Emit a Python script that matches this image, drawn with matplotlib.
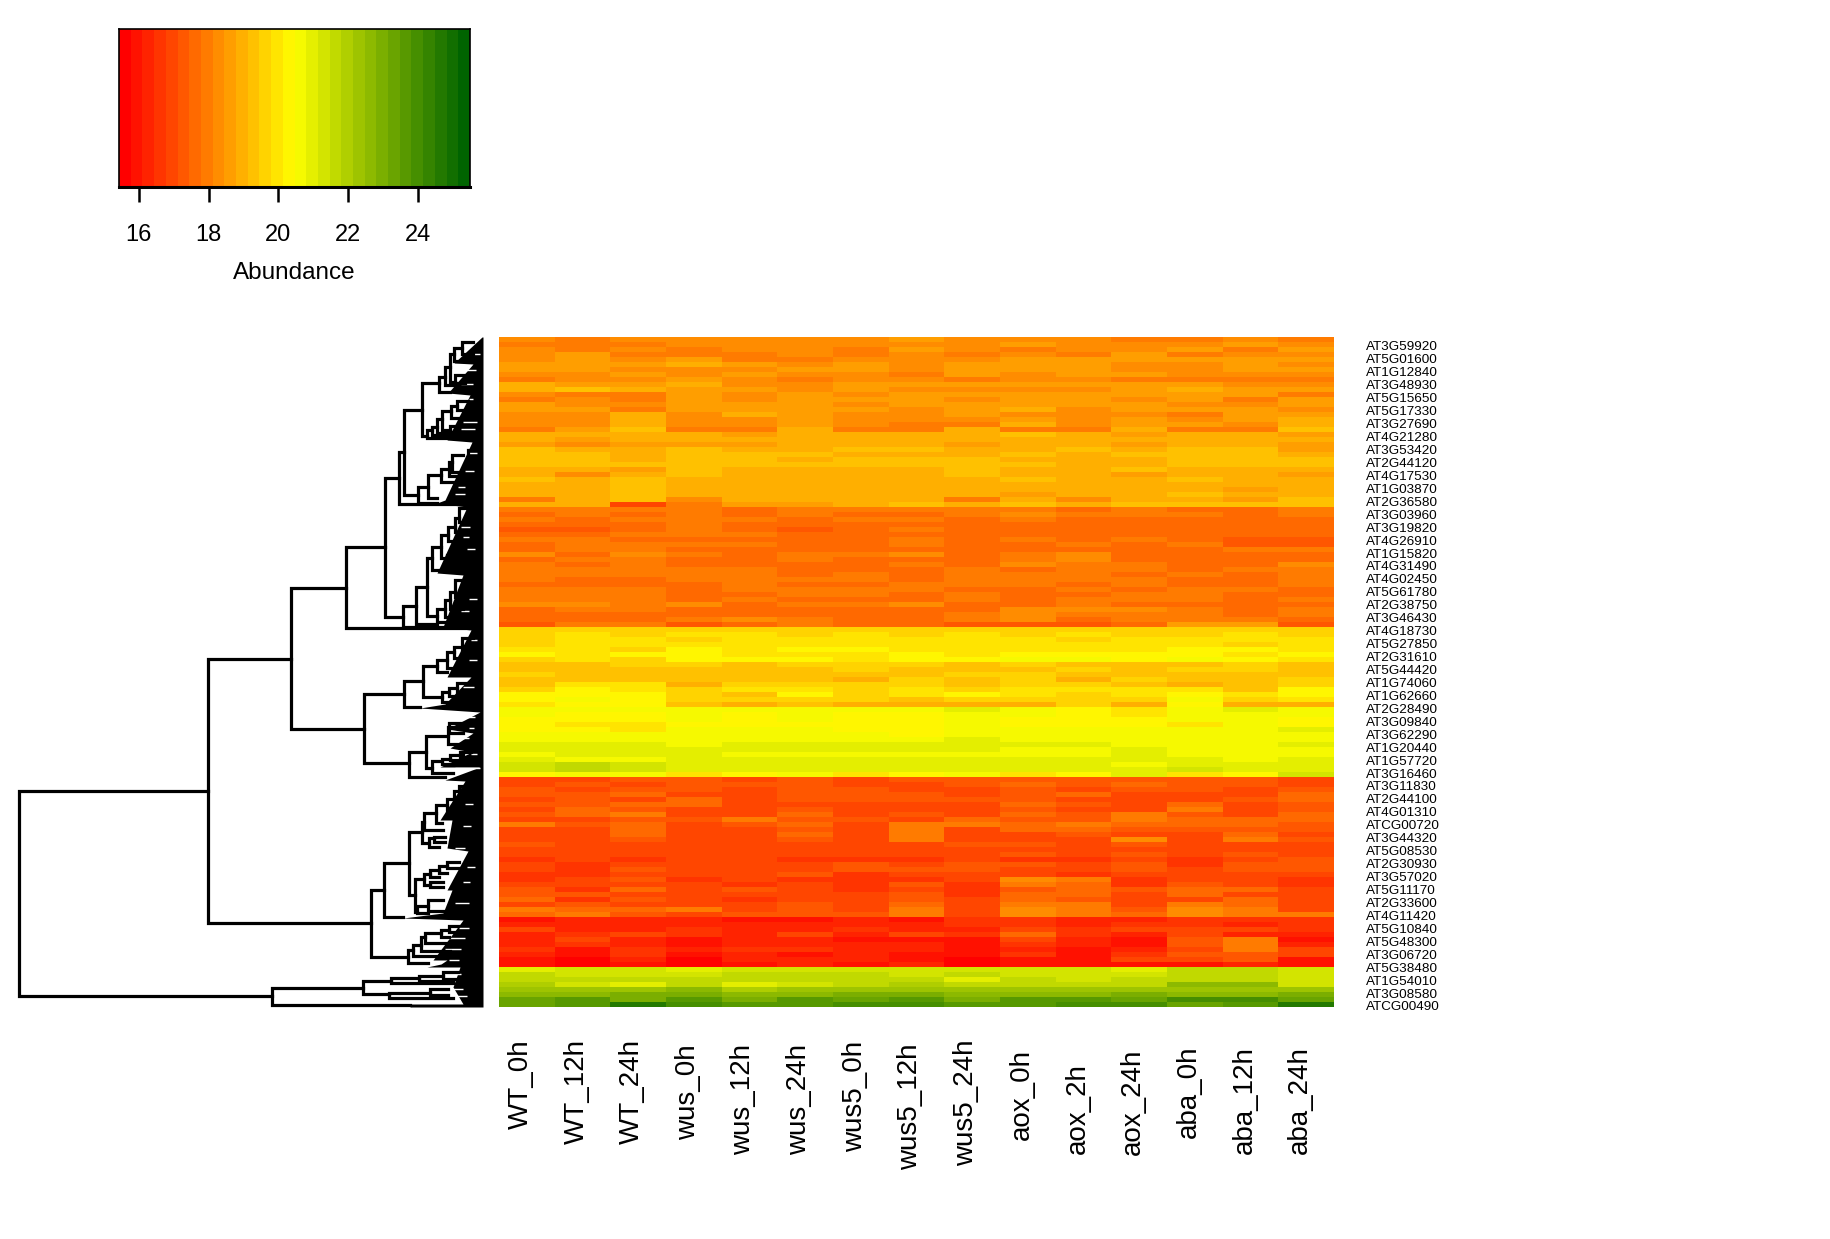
"""Heatmap of protein abundance with row dendrogram and colour key."""
import numpy as np
import matplotlib
matplotlib.use('Agg')
import matplotlib.pyplot as plt
from matplotlib.colors import LinearSegmentedColormap

W, H = 1831, 1239
plt.rcParams['font.family'] = ['Liberation Sans', 'DejaVu Sans']

SAMPLES = ['WT_0h', 'WT_12h', 'WT_24h', 'wus_0h', 'wus_12h', 'wus_24h', 'wus5_0h',
           'wus5_12h', 'wus5_24h', 'aox_0h', 'aox_2h', 'aox_24h', 'aba_0h', 'aba_12h', 'aba_24h']
SAMPLE_LABEL_TOP = [1039, 1039, 1039, 1044, 1044, 1044, 1041, 1044, 1039,
                    1049, 1063, 1049, 1046, 1046, 1046]

GENES = ['AT3G59920', 'AT5G01600', 'AT1G12840', 'AT3G48930', 'AT5G15650', 'AT5G17330',
         'AT3G27690', 'AT4G21280', 'AT3G53420', 'AT2G44120', 'AT4G17530', 'AT1G03870',
         'AT2G36580', 'AT3G03960', 'AT3G19820', 'AT4G26910', 'AT1G15820', 'AT4G31490',
         'AT4G02450', 'AT5G61780', 'AT2G38750', 'AT3G46430', 'AT4G18730', 'AT5G27850',
         'AT2G31610', 'AT5G44420', 'AT1G74060', 'AT1G62660', 'AT2G28490', 'AT3G09840',
         'AT3G62290', 'AT1G20440', 'AT1G57720', 'AT3G16460', 'AT3G11830', 'AT2G44100',
         'AT4G01310', 'ATCG00720', 'AT3G44320', 'AT5G08530', 'AT2G30930', 'AT3G57020',
         'AT5G11170', 'AT2G33600', 'AT4G11420', 'AT5G10840', 'AT5G48300', 'AT3G06720',
         'AT5G38480', 'AT1G54010', 'AT3G08580', 'ATCG00490']

# abundance per row, one column per sample, top to bottom of the picture
upper_orange = [
    [18.2,18.1,18.2,18.3,18.2,18.4,18.2,18.5,18.2,18.2,18.3,18.1,18.1,18.3,18.1],
    [18.0,18.1,18.0,18.2,18.4,18.3,18.4,18.4,18.4,18.5,18.4,18.3,18.4,18.5,18.4],
    [18.4,18.0,18.3,18.0,18.3,18.3,18.0,18.5,18.3,18.1,18.2,18.2,18.5,18.0,18.5],
    [18.3,18.5,18.0,18.0,18.0,18.2,18.0,18.4,18.0,18.4,18.1,18.5,18.0,18.2,18.4],
    [18.4,18.5,18.3,18.7,18.1,18.0,18.3,18.4,18.4,18.5,18.6,18.5,18.5,18.5,18.7],
    [18.7,18.6,18.7,18.8,18.5,18.3,18.6,18.3,18.6,18.5,18.5,18.4,18.4,18.5,18.3],
    [18.5,18.7,18.4,18.4,18.4,18.5,18.5,18.2,18.5,18.6,18.5,18.3,18.4,18.5,18.5],
    [18.3,18.4,18.6,18.2,18.5,18.3,18.4,18.1,18.6,18.4,18.5,18.5,18.4,18.4,18.4],
    [18.1,18.3,18.2,18.6,18.4,18.1,18.3,18.2,18.1,18.3,18.3,17.9,18.1,18.1,17.9],
    [18.9,18.5,18.7,18.9,18.3,18.4,18.6,18.5,18.5,18.7,18.7,18.5,18.5,18.4,18.4],
    [19.0,19.2,18.8,18.5,18.5,18.4,18.5,18.4,18.4,18.4,18.4,18.6,18.9,18.5,18.6],
    [18.2,18.0,18.0,18.5,18.4,18.6,18.3,18.5,18.6,18.5,18.5,18.7,18.7,18.5,18.0],
    [18.0,18.2,18.0,18.5,18.3,18.5,18.5,18.7,18.3,18.6,18.6,18.4,18.7,18.0,18.5],
    [18.5,18.4,18.2,18.7,18.7,18.6,18.3,18.5,18.6,18.7,18.5,18.5,18.3,18.4,18.6],
    [18.6,18.6,18.1,18.6,18.7,18.7,18.5,18.4,18.7,18.8,18.4,18.6,18.5,18.6,18.3],
    [18.2,18.3,18.9,18.3,18.9,18.5,18.3,18.2,18.5,18.4,18.4,18.2,18.0,18.5,18.5],
    [18.4,18.3,18.9,18.3,18.4,18.6,18.2,18.4,18.4,18.5,18.2,18.5,18.2,18.5,18.9],
    [18.3,18.4,19.0,18.4,18.2,18.6,18.2,17.9,18.1,19.0,18.2,18.5,18.6,18.3,19.0],
    [18.0,18.5,19.3,18.0,18.1,18.9,18.0,18.0,18.9,18.0,18.0,18.9,18.0,18.0,19.2],
    [18.8,18.8,18.9,18.9,18.7,18.8,18.9,18.9,18.9,19.2,19.1,18.7,19.1,18.9,18.7],
    [18.8,18.7,18.8,18.8,18.8,18.8,19.0,19.0,18.8,19.0,19.0,18.8,19.0,19.0,18.9],
    [18.7,18.4,18.6,18.7,18.6,18.9,18.9,18.8,18.6,18.8,18.8,18.7,19.0,18.9,18.6],
    [19.2,19.1,19.0,19.3,19.1,19.0,19.3,19.2,19.1,19.1,19.2,19.0,19.3,19.3,18.6],
    [19.2,19.4,18.8,19.3,19.2,19.2,19.1,19.1,19.1,19.2,19.1,19.2,19.2,19.3,19.1],
    [19.2,19.3,18.8,19.3,19.2,19.1,19.3,19.2,19.3,19.1,19.1,19.0,19.3,19.2,19.2],
    [19.3,19.2,19.2,19.3,19.3,19.2,19.3,19.2,19.3,19.2,19.0,18.8,19.2,19.3,19.2],
    [18.8,18.8,18.7,19.2,19.1,19.0,19.1,19.0,19.2,19.0,18.9,19.2,19.0,18.9,19.1],
    [18.9,18.4,18.8,19.3,18.9,19.0,18.9,19.1,19.3,19.1,18.9,18.7,18.9,18.9,18.7],
    [19.2,19.1,19.4,19.0,18.8,19.0,19.1,19.0,18.8,19.2,19.0,19.0,19.2,18.8,19.0],
    [19.0,19.0,19.4,18.8,18.8,19.0,19.1,19.0,18.8,19.0,18.8,19.1,19.0,18.8,18.9],
    [18.8,18.8,19.4,18.9,18.8,19.0,18.9,18.8,18.8,19.0,18.9,19.1,18.9,18.7,19.0],
    [18.9,19.0,19.2,18.9,18.8,18.8,18.9,18.8,18.8,18.7,19.0,19.1,19.2,18.8,19.0],
    [17.8,18.9,19.3,18.4,18.8,18.9,18.8,18.8,17.8,19.0,18.4,19.1,18.9,18.6,19.2],
    [18.9,18.8,17.0,18.0,18.7,18.7,18.8,19.3,18.9,19.2,18.9,19.2,19.4,19.2,19.2],
]

mid_orange = [
    [17.9,17.8,17.9,18.0,17.7,17.9,17.8,17.9,17.8,17.8,17.7,17.9,17.7,17.7,17.8],
    [17.7,17.9,17.7,17.8,17.6,17.9,17.6,17.7,17.8,18.2,17.8,17.9,17.8,17.6,17.8],
    [17.9,17.6,17.9,17.9,17.8,17.6,17.9,18.0,17.6,17.9,17.7,17.7,17.7,17.7,17.6],
    [17.6,17.5,17.6,17.8,17.5,17.5,17.6,17.6,17.6,17.7,17.6,17.6,17.7,17.6,17.6],
    [17.4,17.4,17.7,17.9,17.5,17.4,17.6,17.8,17.5,17.6,17.6,17.5,17.5,17.5,17.6],
    [17.7,17.7,18.0,17.8,17.9,17.7,17.5,17.6,17.7,17.6,17.7,17.7,17.5,17.6,17.7],
    [17.9,17.9,17.6,17.7,17.7,17.5,17.5,17.8,17.5,17.9,17.5,17.8,17.7,17.4,17.4],
    [17.7,18.0,17.9,17.9,17.8,17.6,17.5,17.8,17.5,17.7,17.8,17.6,17.9,17.4,17.4],
    [17.6,18.0,18.0,17.6,17.5,17.7,17.5,17.5,17.7,17.5,17.5,17.6,17.5,17.8,17.8],
    [18.2,17.7,18.3,17.8,17.5,18.1,17.8,18.2,17.5,17.8,18.4,17.5,17.7,17.6,17.6],
    [17.7,18.0,17.9,17.5,17.5,17.8,17.5,17.5,17.5,17.8,18.4,17.6,17.7,17.6,17.6],
    [18.0,17.5,17.8,17.7,17.5,17.5,17.6,18.1,17.5,18.2,18.0,17.8,17.7,17.6,18.2],
    [17.9,17.8,17.8,18.0,17.8,17.7,17.7,17.7,17.8,17.7,17.8,18.0,17.6,17.8,17.9],
    [17.8,17.9,17.8,18.0,18.0,17.7,17.9,17.6,18.0,17.9,17.8,17.7,17.8,17.7,17.9],
    [17.8,17.6,17.7,17.9,17.9,17.8,17.8,17.7,17.9,17.8,17.8,17.8,17.7,17.7,17.9],
    [17.6,17.6,17.6,17.5,17.9,17.6,17.7,17.8,17.8,17.8,17.6,17.8,17.7,17.6,17.8],
    [17.9,18.0,17.9,17.7,17.8,17.8,17.8,18.0,17.7,17.7,17.9,17.7,17.8,17.8,17.7],
    [17.9,18.0,18.0,17.7,17.7,17.9,18.0,17.6,18.0,17.7,17.7,18.0,18.0,17.7,17.6],
    [18.0,17.8,17.8,17.7,17.8,17.6,17.7,17.6,18.0,17.7,18.1,17.8,18.0,17.6,17.8],
    [18.2,18.2,18.0,18.2,17.7,18.1,17.8,18.2,17.6,17.7,17.9,17.7,17.7,17.6,17.6],
    [17.7,17.9,18.0,17.7,17.6,17.6,17.7,17.6,17.7,18.3,18.3,18.2,17.9,17.5,17.8],
    [17.7,17.7,17.7,17.7,17.5,17.7,17.7,17.6,17.8,18.3,18.0,18.1,17.9,17.6,17.9],
    [17.6,17.5,17.6,18.1,18.2,18.0,17.7,17.6,17.9,18.2,17.6,18.1,18.0,17.9,17.5],
    [17.4,17.8,18.0,17.3,17.7,17.8,17.5,17.6,17.4,17.3,17.4,17.5,18.6,18.6,17.4],
]

upper_yellow = [
    [19.7,19.6,19.7,19.7,19.7,19.7,19.7,19.7,19.7,19.7,19.6,19.7,19.7,19.7,19.7],
    [19.6,20.0,19.6,19.9,19.9,19.7,20.0,19.6,19.8,19.7,19.9,19.7,19.7,19.9,19.7],
    [19.7,19.9,19.9,19.7,20.0,19.8,20.0,19.9,19.8,19.9,19.7,19.9,19.8,19.9,19.9],
    [19.6,19.8,20.1,19.8,20.0,19.9,20.0,20.0,20.1,19.8,19.9,19.9,19.9,19.7,19.8],
    [20.1,20.1,19.6,20.3,20.1,20.2,20.4,20.1,20.1,20.1,20.0,19.9,20.2,20.2,19.8],
    [20.3,19.9,20.3,20.2,20.0,20.1,20.1,20.2,20.1,20.2,20.2,20.2,20.4,20.1,20.3],
    [19.7,20.1,19.7,20.4,20.4,20.4,20.1,20.4,20.4,20.5,20.7,20.4,20.5,20.2,20.1],
    [19.4,19.3,19.5,19.5,19.4,19.6,19.5,19.6,19.4,19.5,19.4,19.3,19.4,19.6,19.2],
    [19.4,19.4,19.4,19.3,19.3,19.4,19.6,19.4,19.4,19.4,19.5,19.4,19.6,19.5,19.4],
    [19.5,19.3,19.3,19.2,19.2,19.4,19.3,19.4,19.5,19.5,19.4,19.3,19.3,19.4,19.3],
    [19.4,19.2,19.4,19.2,19.2,19.4,19.1,19.6,19.4,19.6,19.1,19.6,19.3,19.2,19.7],
    [19.3,19.8,19.9,19.1,19.6,19.7,19.5,19.7,19.4,19.7,19.5,19.2,19.1,19.3,19.6],
    [19.6,20.3,19.9,19.6,20.0,19.9,19.7,19.8,19.7,19.8,19.9,20.1,20.0,19.4,20.2],
    [20.3,20.2,20.3,19.7,19.3,20.3,19.6,19.8,20.4,19.8,19.5,20.1,20.3,19.9,20.3],
    [20.4,20.7,20.2,19.7,19.5,19.5,19.5,19.4,19.7,19.6,19.7,19.5,20.5,19.7,19.8],
    [20.0,20.2,20.2,19.2,19.0,19.3,19.0,19.0,19.0,19.0,19.6,19.0,20.3,19.0,18.9],
]

lower_yellow = [
    [20.6,20.5,20.5,20.6,20.5,20.5,20.5,20.5,20.8,20.5,20.4,19.9,20.7,20.8,20.6],
    [20.6,20.4,20.3,20.6,20.4,20.5,20.4,20.4,20.7,20.5,20.4,20.0,20.6,20.7,20.6],
    [20.2,20.3,20.2,20.6,20.3,20.5,20.3,20.4,20.7,20.4,20.4,20.3,20.6,20.7,20.2],
    [20.4,19.8,19.9,20.4,20.3,20.4,20.3,20.3,20.5,20.3,20.2,20.4,20.0,20.5,20.4],
    [20.2,20.3,20.1,20.5,20.5,20.5,20.4,20.4,20.6,20.5,20.5,20.6,20.5,20.7,20.8],
    [20.5,20.6,20.6,20.6,20.5,20.5,20.6,20.4,20.6,20.6,20.6,20.7,20.7,20.7,20.7],
    [20.7,20.7,20.6,20.7,20.5,20.6,20.6,20.5,20.8,20.7,20.7,20.7,20.7,20.7,20.7],
    [20.9,20.8,20.9,20.7,20.9,20.9,20.8,20.8,20.9,21.0,21.0,20.6,20.5,20.7,20.8],
    [20.9,20.9,20.9,20.9,20.9,20.9,21.0,20.9,20.9,20.6,20.6,20.8,20.7,20.7,20.7],
    [20.6,20.9,20.8,20.9,20.5,20.7,20.7,20.7,20.5,20.6,20.5,20.8,20.6,20.6,20.7],
    [20.8,20.7,20.6,21.1,20.9,20.9,21.0,20.8,21.0,20.9,20.8,20.9,20.8,20.6,20.8],
    [21.3,21.6,21.3,21.0,21.0,21.0,21.1,21.0,21.1,21.1,21.1,20.5,21.1,21.1,21.1],
    [21.2,21.5,21.2,21.0,21.0,21.0,21.1,21.0,21.0,21.1,21.1,20.9,21.2,21.1,21.1],
    [20.3,20.5,20.6,19.9,20.4,20.6,19.9,20.4,20.5,19.9,20.4,20.9,19.9,20.3,21.2],
]

lower_red = [
    [17.1,17.0,17.2,17.3,17.1,17.2,17.1,17.2,17.2,17.4,17.2,17.4,17.2,17.2,17.1],
    [16.9,17.3,17.1,17.4,17.3,17.3,17.0,17.0,17.2,17.6,17.3,17.5,17.2,17.2,17.1],
    [17.3,17.1,17.2,17.3,17.0,17.2,17.2,17.1,17.1,17.4,17.1,17.4,17.3,17.0,17.4],
    [17.2,17.2,17.5,17.1,17.1,17.2,17.2,17.2,16.9,17.2,17.7,17.1,17.1,17.1,17.5],
    [17.0,17.2,17.0,17.5,17.1,17.3,17.4,17.3,17.2,17.3,16.9,17.0,17.1,17.2,17.6],
    [17.4,17.3,17.6,17.7,17.0,17.0,17.1,16.9,16.9,17.7,17.3,17.0,17.7,17.0,17.2],
    [17.1,17.5,17.4,17.0,17.0,17.4,17.0,16.8,17.0,17.4,17.0,16.9,17.9,17.0,17.3],
    [17.3,17.5,17.9,16.9,16.8,17.6,17.0,17.4,17.1,17.7,17.3,18.0,17.4,16.9,17.6],
    [17.0,17.0,17.2,17.2,18.0,17.2,17.4,17.0,17.6,17.4,17.4,17.8,17.5,17.5,17.5],
    [17.9,17.2,17.7,16.9,17.4,17.6,17.0,18.0,18.1,17.7,17.8,17.7,17.6,17.7,17.2],
    [17.0,16.9,17.5,17.0,17.0,17.2,16.9,17.8,17.0,17.6,17.5,17.2,17.4,17.4,17.4],
    [16.9,17.0,17.7,16.8,17.0,17.6,16.8,18.0,17.1,17.0,17.2,17.1,16.8,17.6,16.9],
    [16.9,16.9,17.2,17.0,16.9,17.2,16.9,18.0,16.9,17.1,17.1,18.2,17.0,18.0,17.2],
    [17.2,16.8,17.0,17.1,16.9,16.9,16.9,17.1,17.2,17.2,17.1,17.2,17.1,17.0,17.1],
    [17.1,16.9,17.0,17.1,17.0,17.0,16.9,17.1,17.1,17.1,17.0,17.1,17.0,17.0,17.0],
    [16.9,17.0,16.9,16.8,16.9,16.9,16.9,16.9,16.8,17.4,16.8,17.3,16.9,17.2,16.9],
    [16.7,16.9,16.7,17.0,17.1,16.7,16.7,16.7,16.8,16.7,16.7,17.0,16.7,16.9,17.2],
    [16.9,16.7,17.0,16.9,17.0,16.9,17.3,17.1,17.3,17.2,17.1,17.4,16.7,17.3,17.3],
    [17.1,16.7,17.2,17.1,16.9,17.0,17.2,17.3,17.2,17.1,16.9,17.3,17.0,17.3,17.3],
    [16.7,16.6,16.9,17.1,17.1,17.3,16.7,16.9,16.8,17.0,16.7,17.0,16.9,16.9,16.8],
    [16.7,17.1,17.4,16.6,17.1,16.6,16.7,16.6,16.9,18.2,17.8,16.7,17.0,17.0,16.7],
    [17.1,16.8,17.1,16.9,16.6,16.9,16.6,17.4,16.6,17.8,17.5,16.6,17.2,16.9,16.7],
    [17.4,16.6,17.6,16.8,17.3,16.8,16.7,16.8,16.6,17.3,17.6,17.3,17.5,17.6,17.0],
    [17.2,17.3,17.1,17.0,17.0,16.8,16.8,17.2,16.7,17.6,17.6,16.8,17.6,17.1,17.1],
    [17.5,16.7,17.3,16.8,16.7,16.9,16.9,17.4,16.8,17.6,17.2,17.0,17.0,17.5,17.0],
    [17.0,17.2,17.1,17.0,16.9,17.2,16.8,17.7,16.9,17.9,17.8,17.0,17.8,17.6,17.0],
    [17.8,17.6,17.6,17.8,17.1,17.2,17.0,18.0,16.8,18.3,17.8,17.2,18.2,17.8,17.0],
    [17.6,17.8,17.4,17.0,17.2,17.3,17.3,18.0,17.1,18.2,18.1,17.7,18.2,18.0,18.0],
    [16.1,16.2,16.3,16.2,16.0,16.0,16.3,16.1,16.5,16.6,16.3,16.4,16.7,16.6,16.5],
    [16.4,16.3,16.3,16.2,16.3,16.2,16.4,16.3,16.5,16.7,16.3,16.6,16.6,16.3,16.6],
    [16.9,16.3,16.4,16.7,16.4,16.3,16.5,16.3,16.4,16.9,16.6,16.9,16.8,16.8,16.6],
    [16.4,16.5,16.9,16.5,16.2,16.8,16.4,16.8,16.5,17.5,16.5,16.3,16.8,16.4,16.2],
    [16.2,17.0,16.2,16.0,16.2,16.3,16.1,16.0,16.0,16.8,16.4,16.1,17.2,17.8,16.1],
    [16.4,16.7,16.4,16.0,16.2,16.2,16.3,16.2,16.0,16.6,16.4,16.0,17.3,17.8,16.2],
    [16.6,16.1,16.5,16.3,16.6,16.6,16.3,16.2,16.1,16.4,16.1,16.4,17.1,17.9,16.9],
    [16.2,16.0,16.7,16.0,16.2,16.0,16.3,16.1,16.0,16.7,16.0,16.6,17.2,17.2,16.9],
    [15.8,15.7,16.2,15.6,16.4,16.2,16.2,16.0,15.7,16.0,16.1,16.8,17.0,17.2,15.9],
    [15.8,15.6,16.1,15.6,16.0,16.2,16.1,16.2,15.6,15.8,16.0,16.0,16.1,16.4,15.9],
]

lower_green = [
    [21.1,21.4,21.2,21.1,21.3,21.2,21.4,21.3,21.4,21.2,21.2,21.1,21.6,21.5,21.3],
    [21.5,21.2,21.2,21.2,21.5,21.5,21.5,21.3,21.6,21.3,21.2,21.3,21.5,21.7,21.4],
    [21.8,21.7,21.7,21.5,21.6,21.7,21.7,21.7,21.1,21.5,21.4,21.6,21.5,21.6,21.3],
    [21.9,21.3,20.8,21.6,21.0,21.2,21.6,21.9,21.6,21.8,21.7,21.5,22.6,22.5,21.3],
    [22.3,22.2,22.4,22.5,22.1,22.3,22.3,22.4,22.4,22.2,22.2,22.2,22.2,22.3,22.3],
    [22.6,22.7,22.9,23.0,22.8,22.6,22.9,23.0,22.8,22.8,22.8,23.1,22.7,22.8,23.0],
    [23.4,23.6,23.0,23.7,23.1,23.6,23.2,23.5,23.0,23.8,23.8,23.3,23.9,23.9,23.3],
    [23.4,23.6,24.7,24.0,23.8,23.6,23.9,24.0,23.8,23.7,23.9,24.0,23.4,23.8,24.6],
]

heat_rows = upper_orange + mid_orange + upper_yellow + lower_yellow + lower_red + lower_green

# dendrogram merges, height from the leaves and position along the rows
merge_height = [464,275,192,137,98,84,79,61,44,38,33,29,21,28,56,51,46,41,32,26,33,65,55,42,34,31,15,
                80,67,56,51,42,35,28,24,36,46,38,33,28,119,79,60,46,36,29,21,41,34,26,
                74,57,35,34,51,41,33,23,112,99,74,61,59,47,36,29,24,54,49,68,59,53,44,36,66,55,53,
                75,70,62,58,42,34,211,120,92,64,40,94,53]
merge_top = [454,322,251,210,141,115,73,46,40,30,17,11,5,38,93,90,82,74,69,64,89,150,138,132,125,118,113,
             269,250,221,210,198,190,181,171,218,272,263,255,243,357,344,329,323,315,310,301,355,351,346,
             415,399,390,386,424,422,418,415,553,526,495,485,476,468,462,454,449,501,500,542,537,533,529,525,569,563,545,
             613,608,600,596,593,589,651,644,641,639,635,656,652]
merge_bot = [659,586,392,291,280,167,158,99,55,48,45,24,17,46,101,98,96,93,81,73,95,166,161,145,139,135,121,
             290,287,279,233,221,204,195,185,226,285,280,272,260,426,370,360,335,331,321,313,365,359,356,
             440,431,407,396,436,427,423,420,620,580,558,506,493,486,475,465,457,510,505,575,548,540,536,531,576,574,550,
             626,619,614,606,600,595,668,657,646,644,642,661,658]
child_top_height = [275,192,137,98,84,79,61,44,38,33,29,21,10,18,51,46,41,32,26,15,20,55,42,34,31,20,10,
                    67,56,51,42,35,28,24,14,25,38,33,28,16,79,60,46,36,29,21,10,34,26,14,
                    57,35,24,20,41,33,20,12,99,74,61,59,47,36,29,24,14,49,38,59,53,44,36,24,55,40,40,
                    70,62,58,42,34,25,120,92,64,40,25,53,35]
child_bot_height = [211,112,119,15,80,16,65,56,33,28,28,20,10,18,20,30,36,33,25,15,20,46,46,16,20,20,10,
                    16,46,46,30,36,25,20,14,25,30,28,20,16,74,63,41,36,25,21,10,25,26,14,
                    38,51,24,20,30,33,25,12,75,80,68,54,40,41,30,24,14,44,38,66,53,44,36,24,55,40,40,
                    55,40,33,30,34,25,73,94,30,30,25,30,35]

# left edge of the black leaf fringe, following each saw tooth of the tree
fringe_pos = [0,26,27,56,58,103,105,163,166,170,236,238,290,293,340,340,367,371,375,392,396,411,415,
              430,430,443,444,483,483,511,514,553,553,576,581,583,623,623,627,630,630,650,650,667,667,670]
fringe_height = [1,29,10,35,13,36,11,38,46,16,46,20,40,12,36,12,38,63,3,36,10,33,11,
                 43,3,38,18,43,31,36,15,36,31,40,80,20,50,36,42,56,23,30,30,20,73,73]

# thin white gaps left inside the fringe
gap_pos = [17,33,47,62,85,92,116,134,150,157,190,200,212,262,274,303,323,350,
           380,391,401,417,431,449,467,489,511,530,545,566,591,601,612,623,637,652,659]
gap_start = [28,18,22,14,20,22,14,18,25,28,22,20,16,14,22,12,14,20,
             16,14,22,12,28,20,18,20,28,16,20,28,24,36,38,34,38,32,30]
gap_end = [3,7,10,10,6,8,6,9,18,18,13,14,8,6,14,6,6,9,
           8,9,14,6,3,14,10,12,18,8,13,14,14,18,22,24,22,20,16]

TICKS = [16, 18, 20, 22, 24]
VMIN, VMAX = 15.43, 25.49
N_BINS = 30

cmap = LinearSegmentedColormap.from_list('abundance', ['#ff0000', '#ffff00', '#006400'], N=N_BINS)


def add_axes_px(left, top, right, bottom, **kw):
    return fig.add_axes([left / W, 1 - bottom / H, (right - left) / W, (bottom - top) / H], **kw)


fig = plt.figure(figsize=(W / 100, H / 100), dpi=100)

# ── colour key ───────────────────────────────────────────────────────────────
ax = add_axes_px(119, 29, 470, 187)
edges = np.linspace(VMIN, VMAX, N_BINS + 1)
ax.pcolormesh(edges, [0, 1], ((edges[:-1] + edges[1:]) / 2)[None, :], cmap=cmap,
              vmin=VMIN, vmax=VMAX, rasterized=True)
ax.set_yticks([])
ax.set_xticks(TICKS)
ax.tick_params(axis='x', length=11, width=1.8, labelsize=17, pad=15.5)
for spine in ax.spines.values():
    spine.set_linewidth(1.2)
ax.spines['bottom'].set_linewidth(2.2)
ax.set_xlabel('Abundance', fontsize=17.5, labelpad=12)

# ── heat map ─────────────────────────────────────────────────────────────────
heat = np.array(heat_rows)
n_rows, n_cols = heat.shape
ax = add_axes_px(499, 337, 1334, 1007)
ax.imshow(heat, cmap=cmap, vmin=VMIN, vmax=VMAX, aspect='auto', interpolation='nearest',
          extent=(0, n_cols, n_rows, 0))
ax.set_xticks([])
ax.yaxis.tick_right()
ax.set_yticks(np.linspace(9 / 670 * n_rows, 669 / 670 * n_rows, len(GENES)))
ax.set_yticklabels(GENES)
ax.tick_params(axis='y', length=0, labelsize=9.7, pad=23)
for spine in ax.spines.values():
    spine.set_visible(False)

for i, (name, top) in enumerate(zip(SAMPLES, SAMPLE_LABEL_TOP)):
    x_px = 499 + (i + 0.5) * 835 / n_cols + 1
    fig.text(x_px / W, 1 - top / H, name, rotation=90, rotation_mode='anchor',
             ha='right', va='baseline', fontsize=20)

# ── dendrogram ───────────────────────────────────────────────────────────────
ax = add_axes_px(0, 337, 483, 1007)
ax.set_xlim(483, 0)
ax.set_ylim(670, 0)
ax.axis('off')
ax.fill_betweenx(fringe_pos, fringe_height, 0, color='k', lw=0, zorder=1)
ax.hlines(gap_pos, gap_start, gap_end, color='w', lw=1.0, zorder=2)
for h, top, bot, h_top, h_bot in zip(merge_height, merge_top, merge_bot,
                                     child_top_height, child_bot_height):
    ax.plot([h_top, h, h, h_bot], [top, top, bot, bot], color='k', lw=2.3,
            solid_joinstyle='miter', zorder=3, clip_on=False)

fig.savefig('out.png', dpi=100)
print('out.png')
